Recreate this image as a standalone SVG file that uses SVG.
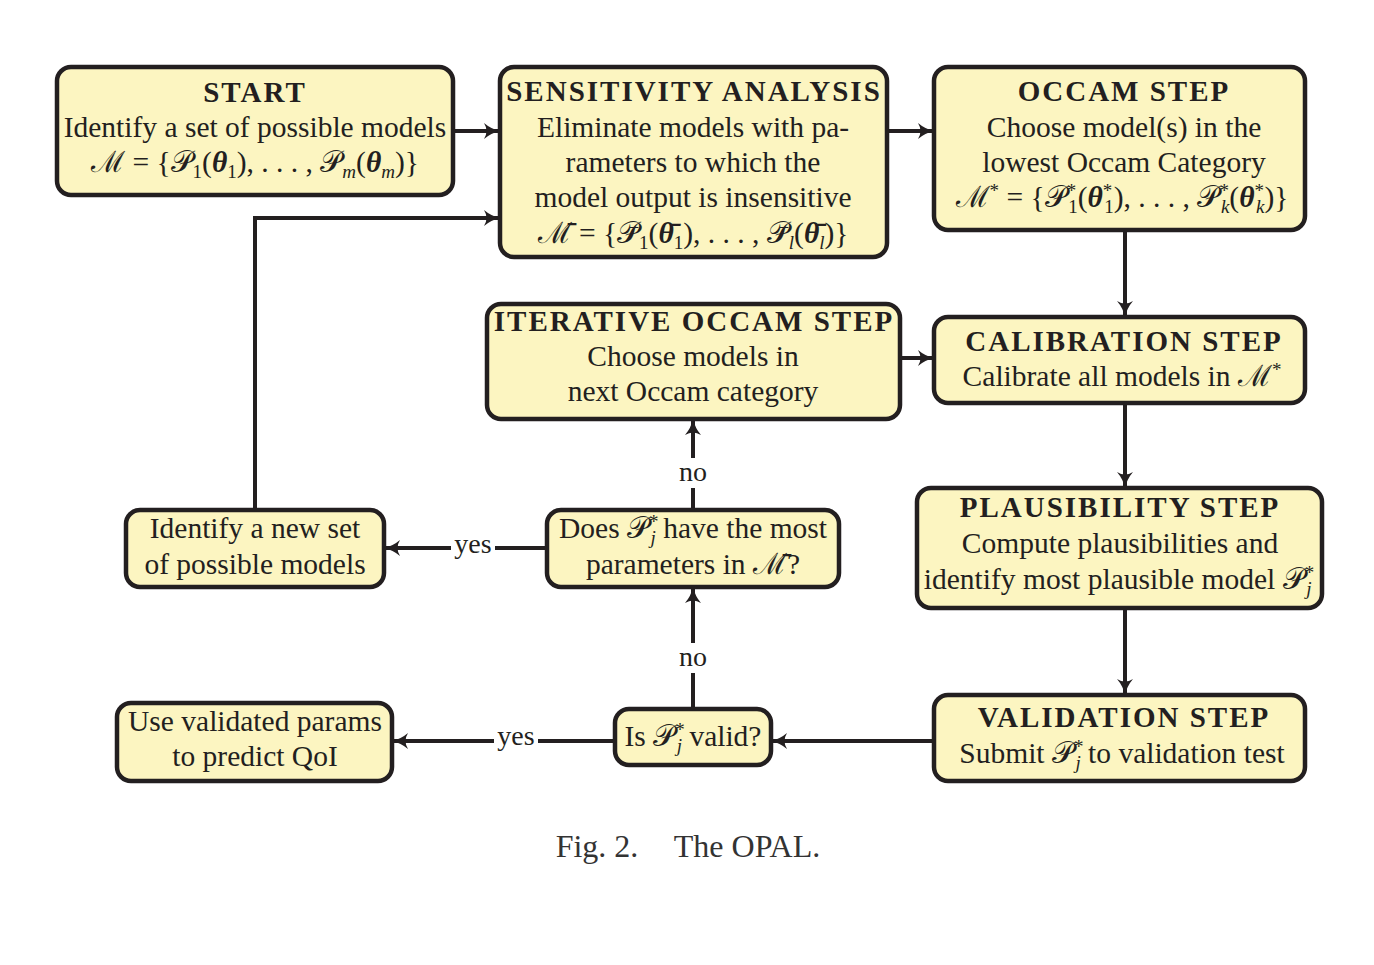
<svg xmlns="http://www.w3.org/2000/svg" width="1374" height="965" viewBox="0 0 1374 965">
<style>
.n{fill:#FCF5C1;stroke:#231F20;stroke-width:4.5}
.t{font-family:'Liberation Serif',serif;font-size:29.5px;fill:#231F20;text-anchor:middle}
.h{font-weight:bold;font-size:29px;letter-spacing:2px}
.m{font-family:'DejaVu Serif',serif}
.i{font-style:italic}
.b{font-style:italic;font-weight:bold}
.s{font-size:19px;baseline-shift:-6px}
.u{font-size:19px;baseline-shift:10px}
.c{fill:none;stroke:#231F20;stroke-width:4}
.l{font-family:'Liberation Serif',serif;font-size:28px;fill:#231F20;text-anchor:middle}
.cap{font-family:'Liberation Serif',serif;font-size:32px;fill:#333;text-anchor:middle}
</style>
<defs>
<marker id="a" markerWidth="20" markerHeight="20" refX="16" refY="10" orient="auto" markerUnits="userSpaceOnUse">
<path d="M2,2 Q9,8 18,10 Q9,12 2,18 Q7,10 2,2 Z" fill="#231F20"/>
</marker>
</defs>
<rect width="1374" height="965" fill="#fff"/>
<g id="connectors">
<line class="c" x1="453" y1="131" x2="498" y2="131" marker-end="url(#a)"/>
<line class="c" x1="887" y1="131" x2="932" y2="131" marker-end="url(#a)"/>
<polyline class="c" points="255,510 255,218 498,218" marker-end="url(#a)"/>
<line class="c" x1="1125" y1="230" x2="1125" y2="315" marker-end="url(#a)"/>
<line class="c" x1="900" y1="358" x2="932" y2="358" marker-end="url(#a)"/>
<line class="c" x1="1125" y1="403" x2="1125" y2="486" marker-end="url(#a)"/>
<line class="c" x1="1125" y1="608" x2="1125" y2="693" marker-end="url(#a)"/>
<line class="c" x1="934" y1="741" x2="773" y2="741" marker-end="url(#a)"/>
<line class="c" x1="615" y1="741" x2="394" y2="741" marker-end="url(#a)"/>
<line class="c" x1="693" y1="709" x2="693" y2="589" marker-end="url(#a)"/>
<line class="c" x1="693" y1="510" x2="693" y2="421" marker-end="url(#a)"/>
<line class="c" x1="547" y1="548" x2="386" y2="548" marker-end="url(#a)"/>
<rect x="494" y="724" width="44" height="30" fill="#fff"/>
<text class="l" x="516" y="745">yes</text>
<rect x="674" y="643" width="38" height="30" fill="#fff"/>
<text class="l" x="693" y="666">no</text>
<rect x="674" y="458" width="38" height="30" fill="#fff"/>
<text class="l" x="693" y="481">no</text>
<rect x="451" y="532" width="44" height="30" fill="#fff"/>
<text class="l" x="473" y="553">yes</text>
</g>
<g id="start">
<rect class="n" x="57" y="67" width="396" height="128" rx="14"/>
<text class="t h" x="255" y="102">START</text>
<text class="t" x="255" y="137">Identify a set of possible models</text>
<text class="t" x="255" y="172"><tspan class="m">ℳ</tspan> = {<tspan class="m">𝒫</tspan><tspan class="s">1</tspan>(<tspan class="b">θ</tspan><tspan class="s">1</tspan>), . . . , <tspan class="m">𝒫</tspan><tspan class="s i">m</tspan>(<tspan class="b">θ</tspan><tspan class="s i">m</tspan>)}</text>
</g>
<g id="sensitivity">
<rect class="n" x="500" y="67" width="387" height="190" rx="14"/>
<text class="t h" x="694" y="101">SENSITIVITY ANALYSIS</text>
<text class="t" x="693" y="137">Eliminate models with pa-</text>
<text class="t" x="693" y="172">rameters to which the</text>
<text class="t" x="693" y="207">model output is insensitive</text>
<text class="t" x="693" y="243"><tspan class="m">ℳ̄</tspan> = {<tspan class="m">𝒫̄</tspan><tspan class="s">1</tspan>(<tspan class="b">θ̄</tspan><tspan class="s">1</tspan>), . . . , <tspan class="m">𝒫̄</tspan><tspan class="s i">l</tspan>(<tspan class="b">θ̄</tspan><tspan class="s i">l</tspan>)}</text>
</g>
<g id="occam">
<rect class="n" x="934" y="67" width="371" height="163" rx="14"/>
<text class="t h" x="1124" y="101">OCCAM STEP</text>
<text class="t" x="1124" y="137">Choose model(s) in the</text>
<text class="t" x="1124" y="172">lowest Occam Category</text>
<text class="t" x="1122" y="207"><tspan class="m">ℳ</tspan><tspan class="u">*</tspan> = {<tspan class="m">𝒫</tspan><tspan class="u">*</tspan><tspan class="s" dx="-8">1</tspan>(<tspan class="b">θ</tspan><tspan class="u">*</tspan><tspan class="s" dx="-8">1</tspan>), . . . , <tspan class="m">𝒫</tspan><tspan class="u">*</tspan><tspan class="s i" dx="-8">k</tspan>(<tspan class="b">θ</tspan><tspan class="u">*</tspan><tspan class="s i" dx="-8">k</tspan>)}</text>
</g>
<g id="iterative">
<rect class="n" x="487" y="304" width="413" height="115" rx="14"/>
<text class="t h" x="694" y="331">ITERATIVE OCCAM STEP</text>
<text class="t" x="693" y="366">Choose models in</text>
<text class="t" x="693" y="401">next Occam category</text>
</g>
<g id="calibration">
<rect class="n" x="934" y="317" width="371" height="86" rx="14"/>
<text class="t h" x="1124" y="351">CALIBRATION STEP</text>
<text class="t" x="1122" y="386">Calibrate all models in <tspan class="m">ℳ</tspan><tspan class="u">*</tspan></text>
</g>
<g id="plausibility">
<rect class="n" x="917" y="488" width="405" height="120" rx="14"/>
<text class="t h" x="1120" y="517">PLAUSIBILITY STEP</text>
<text class="t" x="1120" y="553">Compute plausibilities and</text>
<text class="t" x="1119" y="589">identify most plausible model <tspan class="m">𝒫</tspan><tspan class="u">*</tspan><tspan class="s i" dx="-8">j</tspan></text>
</g>
<g id="new-set">
<rect class="n" x="126" y="510" width="258" height="77" rx="14"/>
<text class="t" x="255" y="538">Identify a new set</text>
<text class="t" x="255" y="574">of possible models</text>
</g>
<g id="does">
<rect class="n" x="547" y="510" width="292" height="77" rx="14"/>
<text class="t" x="693" y="538">Does <tspan class="m">𝒫</tspan><tspan class="u">*</tspan><tspan class="s i" dx="-8">j</tspan> have the most</text>
<text class="t" x="693" y="574">parameters in <tspan class="m">ℳ̄</tspan>?</text>
</g>
<g id="validation">
<rect class="n" x="934" y="695" width="371" height="86" rx="14"/>
<text class="t h" x="1124" y="727">VALIDATION STEP</text>
<text class="t" x="1122" y="763">Submit <tspan class="m">𝒫</tspan><tspan class="u">*</tspan><tspan class="s i" dx="-8">j</tspan> to validation test</text>
</g>
<g id="is-valid">
<rect class="n" x="615" y="709" width="156" height="56" rx="14"/>
<text class="t" x="693" y="746">Is <tspan class="m">𝒫</tspan><tspan class="u">*</tspan><tspan class="s i" dx="-8">j</tspan> valid?</text>
</g>
<g id="use-validated">
<rect class="n" x="117" y="703" width="275" height="78" rx="14"/>
<text class="t" x="255" y="731">Use validated params</text>
<text class="t" x="255" y="766">to predict QoI</text>
</g>
<text class="cap" x="597" y="857">Fig. 2.</text>
<text class="cap" x="747" y="857">The OPAL.</text>
</svg>
